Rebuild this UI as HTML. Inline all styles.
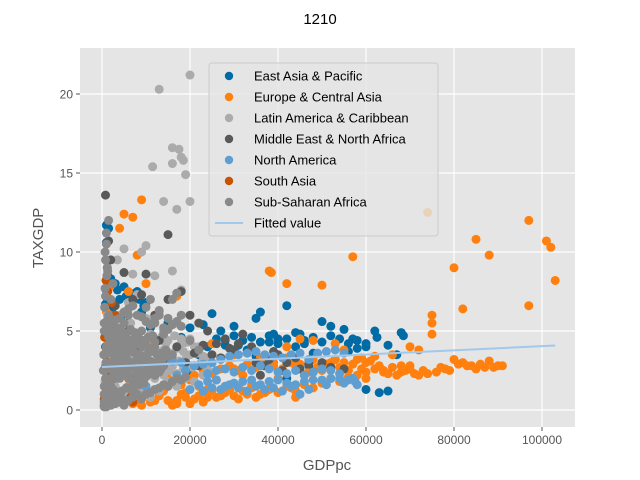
<!DOCTYPE html>
<html><head><meta charset="utf-8"><style>
body{margin:0;background:#fff;}
svg{display:block;font-family:"Liberation Sans",sans-serif;}
</style></head><body>
<svg id="chart" width="640" height="480"></svg>
<script>
const seriesNames=["East Asia & Pacific","Europe & Central Asia","Latin America & Caribbean","Middle East & North Africa","North America","South Asia","Sub-Saharan Africa"];
const seriesColors=["#006BA4","#FF800E","#ABABAB","#595959","#5F9ED1","#C85200","#898989"];
const eapX=[1000,1500,2000,3000,5000,8000,10000,15000,20000,25000,27000,30000,35000,36000,40000,42000,45000,50000,52000,55000,57000,60000,62000,62500,65000,67000,68000,68500,48000,44000,38000,33000,28000,24000,22000,18000,12000,9000,6000,4000,2500,1200,800,800,1500,3000,60000,63000,65000,47000,42000,35000,25000,20000,16000,10000,7000,2000,500,53000,56000,1000,1300,900,1100,4500,11000,14000,19000,23000,31000,39000,46000,58000,
32000,34000,36000,38000,40000,42000,44000,46000,48000,50000,52000,54000,56000,58000,60000,30000,28000,26000,3500,5500,6500,7500,8500,9500];
const eapY=[11.7,11.5,8.3,8.0,7.8,7.5,6.8,5.5,5.2,6.1,5.0,5.3,5.8,6.2,4.5,6.6,4.8,5.6,5.3,5.1,4.5,4.2,5.0,4.6,4.1,3.5,4.9,4.7,3.6,4.0,4.3,3.8,4.4,4.0,3.5,4.6,5.8,6.2,5.5,7.0,6.5,9.0,6.7,4.0,3.0,2.5,1.3,1.1,1.2,2.8,2.0,3.4,3.0,2.5,3.2,4.0,3.5,1.0,0.3,3.2,3.7,10.6,8.5,7.6,7.1,6.0,5.2,4.6,4.3,5.4,4.1,4.8,4.2,3.9,
4.4,4.6,4.3,4.7,4.2,4.5,4.9,4.4,4.6,4.3,4.7,4.5,4.2,4.4,4.0,4.7,4.1,4.5,7.6,7.2,6.9,7.4,7.0,6.6];
const ecaX=[5000,9000,7000,4000,38000,38500,42000,50000,57000,74000,80000,82000,85000,88000,97000,101000,102000,103000,97000,75000,75000,75000,70000,72000,66000,78000,80000,82000,84000,86000,88000,90000,85000,87000,74000,72000,70000,68000,65000,63000,60000,58000,56000,54000,52000,50000,48000,46000,44000,42000,40000,38000,36000,34000,32000,30000,28000,26000,24000,22000,20000,18000,16000,14000,12000,10000,8000,6000,4000,3000,2000,1500,1000,25000,30000,45000,55000,35000,44000,60000,17000,12000,10000,8000,6000,27000,33000,15000,20000,13000,9000,11000,39000,42000,48000,53000,62000,67000,1000,1800,2500,7000,9000,11000,13000,15000,17000,19000,21000,23000,25000,27000,29000,31000,37000,43000,47000,51000,59000,64000,69000,76000,
21000,23000,25000,27000,29000,31000,33000,35000,37000,39000,41000,43000,45000,47000,49000,51000,53000,55000,57000,59000,61000,22000,24000,26000,28000,30000,32000,34000,36000,38000,40000,42000,44000,46000,48000,50000,52000,54000,56000,58000,60000,62000,64000,66000,68000,70000,71000,73000,77000,79000,81000,83000,89000,91000,18000,16000,14000,20000,19000,17000];
const ecaY=[12.4,13.3,12.2,11.5,8.8,8.7,8.0,7.9,9.7,12.5,9.0,6.4,10.8,9.8,12.0,10.7,10.3,8.2,6.6,6.0,5.5,4.8,4.0,3.8,3.5,2.6,3.2,3.0,2.8,2.9,3.1,2.8,2.6,2.7,2.3,2.2,2.6,2.8,2.3,2.8,3.0,3.2,2.5,2.7,3.0,2.5,3.2,2.2,2.8,3.3,2.0,2.7,3.3,1.6,2.2,2.6,1.5,1.9,0.8,1.5,0.4,1.0,0.3,1.2,0.6,1.0,0.5,1.5,2.5,3.5,5.0,4.2,3.0,4.2,3.5,4.5,3.8,0.8,0.8,2.0,7.2,6.0,8.0,9.8,7.5,3.3,1.0,2.0,2.8,3.5,2.0,4.5,3.0,4.0,4.4,4.2,3.4,2.2,6.2,7.8,5.8,0.4,0.3,0.5,0.9,0.6,0.4,1.1,0.7,0.5,1.2,0.9,1.3,0.7,1.1,1.4,2.4,2.9,2.6,2.4,2.5,2.4,
2.2,2.5,2.3,2.6,2.8,2.5,2.9,2.7,3.0,2.8,2.6,3.0,2.9,3.1,2.7,2.9,3.2,3.0,2.9,3.3,3.1,0.9,1.3,0.8,1.1,0.9,1.2,1.4,1.0,1.3,1.1,1.5,1.2,1.6,1.4,1.7,2.0,1.8,2.1,2.2,2.4,2.6,2.5,2.7,2.4,2.8,2.3,2.5,2.7,2.5,2.9,2.8,2.7,2.8,1.6,1.8,1.5,1.9,0.8,0.6];
const lacX=[13000,20000,16000,17500,18000,18500,16000,11500,19000,14000,20000,17000,10000,9000,7000,5000,3500,16000,18000,12000,8000,6000,4000,2000,10000,14000,20000,22000,18000,15000,12000,9000,6000,3000,1500,5000,8000,11000,13000,7000,4000,2500,16000,19000,21000,10000,12000,17000,24000,700,1000,1200,9500,14500,6500,15000,17000,19000,13000,11000,21000,23000,8500,5500,3500,
12000,13500,15000,16500,18000,19500,21000,12500,14000,15500,17000,18500,20000,13000,14500,16000,17500,19000,11000,12500,14000,15500,17000,18500,20500,22500,24000,21500,23000];
const lacY=[20.3,21.2,16.6,16.5,16.0,15.8,15.6,15.4,14.9,13.2,13.2,12.7,10.4,10.0,8.6,10.2,9.5,8.8,7.6,8.5,7.3,6.8,6.0,5.0,5.8,5.0,4.5,4.0,4.2,3.5,3.0,2.5,2.0,1.5,1.0,4.0,4.5,4.8,6.2,3.2,3.0,2.5,2.8,3.2,2.8,1.5,2.0,5.5,3.3,1.8,3.8,6.0,3.8,4.2,5.5,1.8,1.5,2.0,1.2,0.8,1.8,2.2,1.2,0.9,0.6,
4.5,4.6,4.4,4.7,4.5,4.3,4.0,3.7,3.8,3.6,3.9,3.7,3.5,2.9,3.0,2.8,3.1,2.9,2.3,2.4,2.2,2.5,2.3,2.6,2.7,3.0,2.6,3.6,3.4];
const menaX=[15000,800,1500,2000,5000,7000,9000,10000,15000,18000,20000,22000,24000,26000,28000,30000,32000,35000,38000,40000,45000,48000,50000,55000,13000,12000,6000,4000,3000,17000,25000,22000,19000,14000,8000,2500,36000,42000,
23000,27000,29000,31000,33000,37000,39000,41000,44000,47000,52000,21000,34000];
const menaY=[11.1,13.6,10.7,9.5,8.7,7.0,7.3,8.6,7.0,7.5,6.0,5.5,5.0,4.2,4.5,3.8,4.8,3.0,3.2,3.5,2.6,2.4,3.0,2.6,4.4,6.0,5.0,4.2,6.6,4.0,3.5,2.8,3.0,3.2,3.8,2.0,2.2,3.0,
4.1,3.3,3.9,4.2,3.6,2.8,3.7,2.5,3.3,2.9,2.7,3.6,4.0];
const naX=[15000,17000,19000,21000,23000,25000,27000,29000,31000,33000,35000,37000,39000,41000,43000,45000,47000,49000,51000,53000,55000,20000,22000,24000,26000,28000,30000,32000,34000,36000,38000,40000,42000,44000,46000,48000,50000,52000,54000,56000,58000,10000,12000,14000,16000,18000,41000,45000,
24000,26000,28000,30000,32000,34000,36000,38000,40000,42000,44000,46000,48000,50000,52000,54000,57000,23000,25000,27000,29000,31000,33000,35000,37000,39000,43000,47000,51000,55000,57500];
const naY=[1.5,2.2,2.5,2.8,2.9,3.0,3.2,3.4,3.5,3.6,3.7,3.5,3.4,3.3,3.5,3.6,3.2,3.6,3.7,3.8,3.6,1.3,1.6,1.8,1.9,1.5,1.7,1.8,1.9,1.6,1.8,1.9,1.7,1.6,1.8,1.9,1.9,2.0,2.0,1.9,1.6,1.5,2.2,2.8,3.1,3.0,1.2,1.0,
2.3,2.5,2.6,2.4,2.7,2.5,2.8,2.6,2.4,2.3,2.5,2.2,2.4,2.6,2.5,2.3,2.0,1.2,1.4,1.3,1.6,1.4,1.2,1.5,1.3,1.4,1.5,1.3,1.6,1.7,1.8];
const saX=[500,800,1000,1200,1500,2000,2500,3000,1000,600,700,1800,4000,6500,7000,1300,900,2200,1500,2600,3400,5000];
const saY=[0.7,1.0,1.3,2.0,3.0,4.0,5.0,6.0,5.0,4.6,3.5,2.5,0.7,0.8,0.5,7.5,8.2,6.8,5.8,4.2,3.0,4.3];
const ssaX=[500,700,800,900,1000,1200,1500,2000,2500,800,1000,1500,600,3000,3500,4000,5000,6000,7000,8000,9000,10000,11000,12000,13000,14000,15000,16000,17000,18000,2000,3000,4000,5000,6000,7000,8000,9000,500,400,300,600,1500,2500,1800,20000,22000,10000,12000,14000,700,1100,
2000,3000,4000,5000,6000,7000,8000,9000,10000,11000,12000,13000,14000,15000,16000,1000,2000,3000,4000,5000,6000,7000,8000,9000,10000,11000,12000,13000,1000,2000,3000,4000,5000,6000,7000,8000,9000,10000,11000,12000,500,1500,2500,3500,4500,5500,6500,7500,8500,9500,500,1500,2500,3500,4500,5500,6500,7500,500,1500,2500,3500,4500,5500,
1500,2500,3500,4500,5500,6500,7500,8500,9500,10500,11500,12500,13500,14500,1500,2500,3500,4500,5500,6500,7500,8500,9500,10500,11500,12500,13500,1500,2500,3500,4500,5500,6500,7500,8500,9500,10500,11500,1000,2000,3000,4000,5000,6000,7000,8000,9000,10000,11000,12000,13000,14000,15000,16000,17000,18000,500,1000,2000,3000,4000,5000,6000,7000,8000,9000,10000,11000,12000,13000,14000,15000,16000,17000,18000,19000,500,800,1000,1200,500,800,1200,700,1000,1300];
const ssaY=[0.2,1.0,2.0,3.0,4.0,5.0,6.0,7.0,8.0,9.5,10.5,12.0,6.5,2.0,3.5,4.5,5.5,6.0,4.0,3.5,5.0,6.5,7.0,5.5,6.0,4.8,5.8,7.0,7.4,6.0,1.5,1.0,2.5,3.0,2.2,1.8,2.5,2.0,1.5,3.5,2.5,0.5,0.8,3.0,4.5,4.4,3.8,3.3,4.0,2.8,7.7,8.5,
3.0,3.0,3.2,3.0,3.1,3.0,3.2,3.0,2.9,3.1,3.0,3.2,3.3,3.4,3.5,2.0,2.0,2.1,2.0,2.2,2.0,2.1,2.0,2.2,2.1,2.3,2.2,2.4,4.0,4.1,4.0,4.2,4.0,4.3,4.1,4.2,4.0,4.1,3.9,4.3,1.0,1.2,1.3,1.1,1.2,1.4,1.3,1.5,1.6,1.7,5.0,5.1,4.9,5.2,5.0,4.8,5.1,4.9,0.5,0.4,0.6,0.5,0.7,0.6,
3.6,3.5,3.7,3.6,3.5,3.7,3.6,3.5,3.4,3.6,3.7,3.5,3.6,3.8,2.6,2.5,2.7,2.6,2.5,2.7,2.6,2.5,2.4,2.6,2.7,2.5,2.6,4.6,4.5,4.7,4.6,4.5,4.4,4.6,4.5,4.4,4.6,4.7,5.6,5.5,5.7,5.8,6.2,6.4,6.6,6.0,5.9,5.6,5.4,5.8,6.3,5.2,5.1,5.4,5.6,5.3,0.3,0.2,0.3,0.4,0.5,0.3,0.6,0.8,1.0,0.7,1.0,1.1,1.3,1.4,1.6,1.5,1.8,2.0,1.9,2.1,1.0,2.8,3.8,0.5,5.5,7.2,9.0,10.0,11.2,8.8];
const seriesX=[eapX,ecaX,lacX,menaX,naX,saX,ssaX];
const seriesY=[eapY,ecaY,lacY,menaY,naY,saY,ssaY];
const fitX=[0,103000];
const fitY=[2.72,4.08];
const xTicks=[0,20000,40000,60000,80000,100000];
const yTicks=[0,5,10,15,20];

const NS="http://www.w3.org/2000/svg";
const svg=document.getElementById('chart');
const L=80,R=575,T=48,B=427;
function sx(v){return 102+v*88/20000;}
function sy(v){return 410-v*15.8;}
function mk(tag,a,p){const e=document.createElementNS(NS,tag);for(const k in a)e.setAttribute(k,a[k]);(p||svg).appendChild(e);return e;}

const bg=mk('rect',{x:L,y:T,width:R-L,height:B-T,fill:'#E5E5E5'});


xTicks.forEach(t=>{
 const g=mk('line',{x1:sx(t),x2:sx(t),y1:T,y2:B,stroke:'#fff','stroke-width':1.2});
 
 
 const tk=mk('line',{x1:sx(t),x2:sx(t),y1:B,y2:B+4,stroke:'#555'});
 
 
 const tx=mk('text',{x:sx(t),y:B+17,'text-anchor':'middle','font-size':12,fill:'#555'});
 tx.textContent=t;
 
 
});
yTicks.forEach(t=>{
 const g=mk('line',{x1:L,x2:R,y1:sy(t),y2:sy(t),stroke:'#fff','stroke-width':1.2});
 
 
 const tk=mk('line',{x1:L-4,x2:L,y1:sy(t),y2:sy(t),stroke:'#555'});
 
 
 const tx=mk('text',{x:L-7,y:sy(t)+4.5,'text-anchor':'end','font-size':12,fill:'#555'});
 tx.textContent=t;
 
 
});
seriesX.forEach((xs,i)=>{
 const g=mk('g',{fill:seriesColors[i]});
 
 
 xs.forEach((x,j)=>{
  const c=mk('circle',{cx:sx(x),cy:sy(seriesY[i][j]),r:4.5},g);
  
  
 });
});
const fl=mk('line',{x1:sx(fitX[0]),y1:sy(fitY[0]),x2:sx(fitX[1]),y2:sy(fitY[1]),stroke:'#A2C8EC','stroke-width':2});



const lg=mk('g',{});


mk('rect',{x:209,y:63,width:229,height:173,rx:3,fill:'#E5E5E5','fill-opacity':0.8,stroke:'#ccc'},lg);
const labels=seriesNames.concat(["Fitted value"]);
labels.forEach((n,i)=>{
 const y=76+i*21;
 if(i<7){mk('circle',{cx:229,cy:y,r:4.2,fill:seriesColors[i]},lg);}
 else{mk('line',{x1:215,x2:243,y1:y,y2:y,stroke:'#A2C8EC','stroke-width':2},lg);}
 const t=mk('text',{x:254,y:y+4.5,'font-size':13,fill:'#000'},lg);
 t.textContent=n;
 
 
});

const title=mk('text',{x:320,y:24,'text-anchor':'middle','font-size':15,fill:'#000'});
title.textContent='1210';


const xl=mk('text',{x:327,y:470,'text-anchor':'middle','font-size':15,fill:'#555'});
xl.textContent='GDPpc';


const yl=mk('text',{x:0,y:0,'text-anchor':'middle','font-size':15,fill:'#555',transform:'translate(43,238) rotate(-90)'});
yl.textContent='TAXGDP';


</script>
</body></html>
